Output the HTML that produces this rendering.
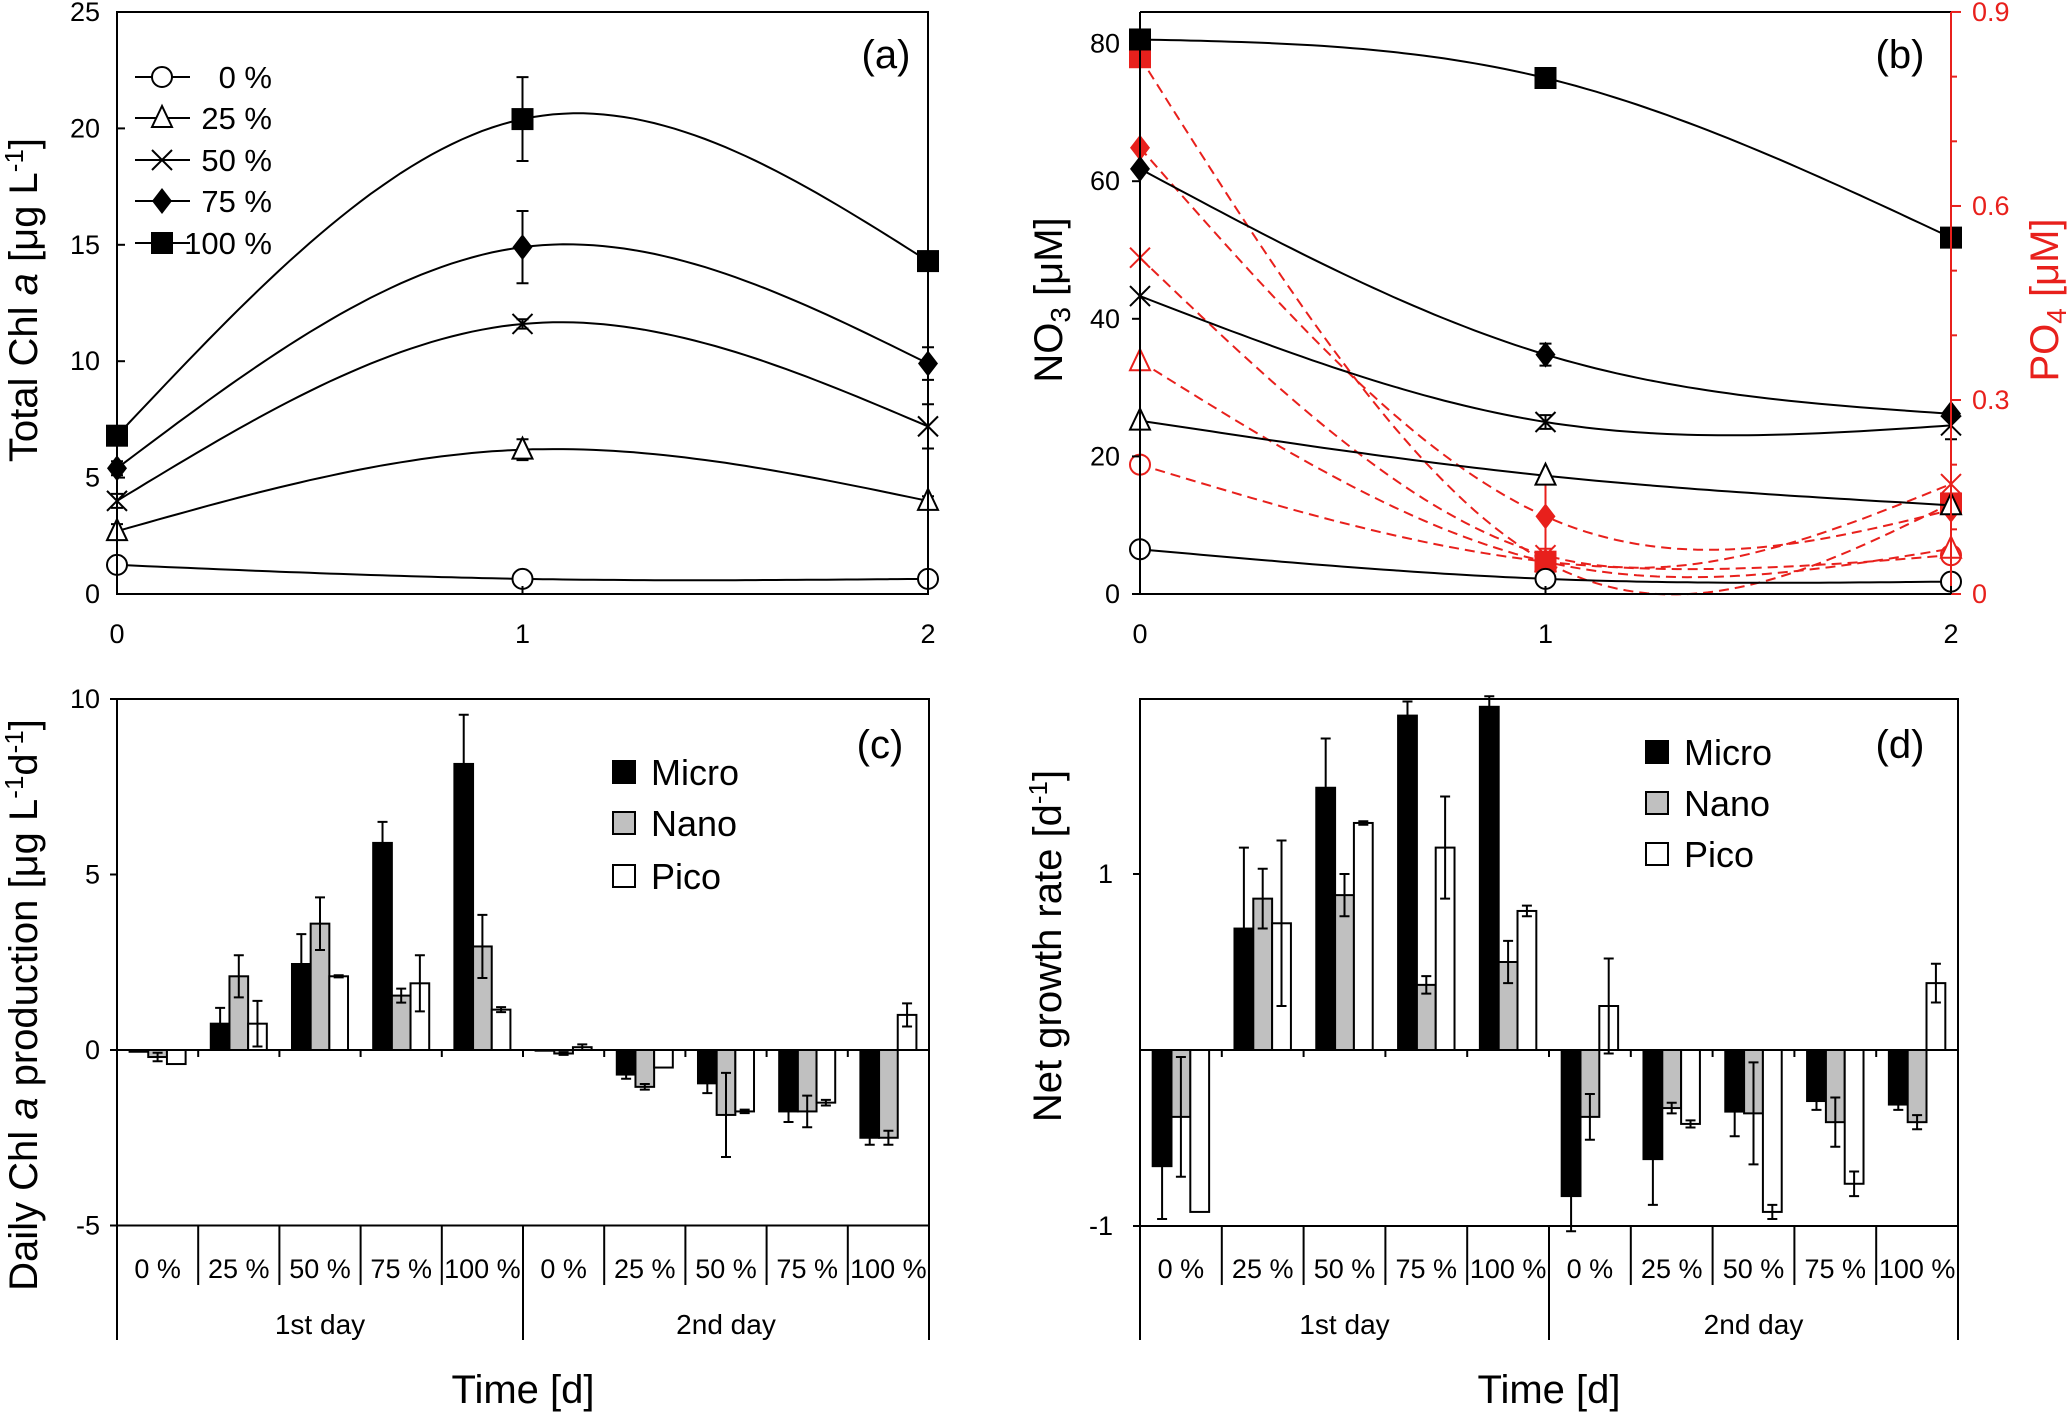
<!DOCTYPE html>
<html><head><meta charset="utf-8"><style>
html,body{margin:0;padding:0;background:#fff}
svg{display:block}
text{font-family:"Liberation Sans Narrow","Liberation Sans",sans-serif}
.w{font-family:"Liberation Sans",sans-serif}
</style></head><body>
<svg id="fig" width="2067" height="1413" viewBox="0 0 2067 1413" xmlns="http://www.w3.org/2000/svg">
<rect width="2067" height="1413" fill="#fff"/>
</svg>
<script>
// ---------- Panel (a) data: Total Chl a ----------
const aTimes = [0, 1, 2];
const aTreat = ["0 %", "25 %", "50 %", "75 %", "100 %"];
const aChl0 = [1.25, 0.65, 0.65];
const aChl25 = [2.7, 6.2, 4.0];
const aChl50 = [4.0, 11.6, 7.2];
const aChl75 = [5.4, 14.9, 9.9];
const aChl100 = [6.8, 20.4, 14.3];
const aErr0 = [0.2, 0.15, 0.15];
const aErr25 = [0.3, 0.45, 0.2];
const aErr50 = [0.3, 0.2, 0.95];
const aErr75 = [0.3, 1.55, 0.7];
const aErr100 = [0.2, 1.8, 0.2];
const aYTicks = [0, 5, 10, 15, 20, 25];
// ---------- Panel (b) data: NO3 (black) and PO4 (red) ----------
const bNO3_0 = [6.5, 2.2, 1.8];
const bNO3_25 = [25.2, 17.2, 12.9];
const bNO3_50 = [43.3, 25.0, 24.5];
const bNO3_75 = [61.8, 34.8, 26.2];
const bNO3_100 = [80.6, 75.0, 51.8];
const bPO4_0 = [0.2, 0.05, 0.06];
const bPO4_25 = [0.36, 0.05, 0.07];
const bPO4_50 = [0.52, 0.06, 0.17];
const bPO4_75 = [0.69, 0.12, 0.13];
const bPO4_100 = [0.83, 0.05, 0.14];
const bNO3Ticks = [0, 20, 40, 60, 80];
const bPO4Ticks = [0, 0.3, 0.6, 0.9];
// ---------- Panel (c) data: Daily Chl a production ----------
const groups = ["0 %", "25 %", "50 %", "75 %", "100 %", "0 %", "25 %", "50 %", "75 %", "100 %"];
const days = ["1st day", "2nd day"];
const cMicro = [-0.05, 0.75, 2.45, 5.9, 8.15, -0.02, -0.7, -0.95, -1.75, -2.5];
const cNano = [-0.2, 2.1, 3.6, 1.55, 2.95, -0.1, -1.05, -1.85, -1.75, -2.5];
const cPico = [-0.4, 0.75, 2.1, 1.9, 1.15, 0.08, -0.5, -1.75, -1.5, 1.0];
const cMicroErr = [0, 0.45, 0.85, 0.6, 1.4, 0, 0.12, 0.28, 0.3, 0.2];
const cNanoErr = [0.12, 0.6, 0.75, 0.2, 0.9, 0.04, 0.08, 1.2, 0.45, 0.2];
const cPicoErr = [0, 0.65, 0.03, 0.8, 0.07, 0.08, 0, 0.05, 0.08, 0.33];
const cYTicks = [-5, 0, 5, 10];
// ---------- Panel (d) data: Net growth rate ----------
const dMicro = [-0.66, 0.69, 1.49, 1.9, 1.95, -0.83, -0.62, -0.35, -0.29, -0.31];
const dNano = [-0.38, 0.86, 0.88, 0.37, 0.5, -0.38, -0.33, -0.36, -0.41, -0.41];
const dPico = [-0.92, 0.72, 1.29, 1.15, 0.79, 0.25, -0.42, -0.92, -0.76, 0.38];
const dMicroErr = [0.3, 0.46, 0.28, 0.08, 0.06, 0.2, 0.26, 0.14, 0.05, 0.03];
const dNanoErr = [0.34, 0.17, 0.12, 0.05, 0.12, 0.13, 0.03, 0.29, 0.14, 0.04];
const dPicoErr = [0, 0.47, 0.01, 0.29, 0.03, 0.27, 0.02, 0.04, 0.07, 0.11];
const dYTicks = [-1, 1];

const NS = "http://www.w3.org/2000/svg";
const svg = document.getElementById("fig");
function mk(tag, attrs, parent) {
  const e = document.createElementNS(NS, tag);
  for (const k in attrs) e.setAttribute(k, attrs[k]);
  (parent || svg).appendChild(e);
  return e;
}
function txt(str, x, y, size, anchor, parent, fill) {
  const t = mk("text", {x: x, y: y, "font-size": size, "text-anchor": anchor || "middle", fill: fill || "#000"}, parent);
  t.textContent = str;
  return t;
}
function spline(ys, xf, yf) {
  const M1 = 1.5 * (ys[0] - 2 * ys[1] + ys[2]);
  const M = [0, M1, 0];
  let d = "";
  for (let s = 0; s < 2; s++) {
    for (let k = 0; k <= 40; k++) {
      const t = k / 40;
      const v = (1 - t) * ys[s] + t * ys[s + 1] + ((Math.pow(1 - t, 3) - (1 - t)) * M[s] + (Math.pow(t, 3) - t) * M[s + 1]) / 6;
      d += (d ? "L" : "M") + xf(s + t).toFixed(1) + "," + yf(v).toFixed(1);
    }
  }
  return d;
}
function marker(kind, x, y, color, parent) {
  const c = color;
  if (kind === 0) return mk("circle", {cx: x, cy: y, r: 10, fill: "#fff", stroke: c, "stroke-width": 2}, parent);
  if (kind === 1) return mk("polygon", {points: `${x},${y - 12} ${x - 10},${y + 9} ${x + 10},${y + 9}`, fill: "#fff", stroke: c, "stroke-width": 2}, parent);
  if (kind === 2) return mk("path", {d: `M${x - 10},${y - 10}L${x + 10},${y + 10}M${x - 10},${y + 10}L${x + 10},${y - 10}`, stroke: c, "stroke-width": 2, fill: "none"}, parent);
  if (kind === 3) return mk("polygon", {points: `${x},${y - 13} ${x + 10},${y} ${x},${y + 13} ${x - 10},${y}`, fill: c}, parent);
  return mk("rect", {x: x - 11, y: y - 11, width: 22, height: 22, fill: c}, parent);
}
function errBar(x, y1, y2, color, parent, cap) {
  cap = cap || 6;
  mk("path", {d: `M${x},${y1}L${x},${y2}M${x - cap},${y1}L${x + cap},${y1}M${x - cap},${y2}L${x + cap},${y2}`, stroke: color, "stroke-width": 2, fill: "none"}, parent);
}

// ================= Panel A =================
const gA = mk("g", {});


const axA = x => 117 + x * 405.5;
const ayA = v => 594 - v * 23.28;
const aSeries = [aChl0, aChl25, aChl50, aChl75, aChl100];
const aErrs = [aErr0, aErr25, aErr50, aErr75, aErr100];
aSeries.forEach((ser, i) => {
  const g = mk("g", {}, gA);
  
  
  mk("path", {d: spline(ser, axA, ayA), stroke: "#000", "stroke-width": 2, fill: "none"}, g);
  ser.forEach((v, j) => {
    const e = aErrs[i][j];
    errBar(axA(aTimes[j]), ayA(v + e), ayA(v - e), "#000", g);
    marker(i, axA(aTimes[j]), ayA(v), "#000", g);
  });
});
const frA = mk("rect", {x: 117, y: 12, width: 811, height: 582, fill: "none", stroke: "#000", "stroke-width": 2}, gA);


aYTicks.forEach(v => {
  mk("line", {x1: 117, x2: 125, y1: ayA(v), y2: ayA(v), stroke: "#000", "stroke-width": 2}, gA);
  const t = txt(String(v), 100, ayA(v) + 9, 27, "end", gA);
  
  
});
aTimes.forEach(x => {
  mk("line", {x1: axA(x), x2: axA(x), y1: 594, y2: 586, stroke: "#000", "stroke-width": 2}, gA);
  const t = txt(String(x), axA(x), 643, 27, "middle", gA);
  
  
});
{
  const t = mk("text", {x: 0, y: 0, "font-size": 40, "text-anchor": "middle", transform: "translate(37,300) rotate(-90)", class: "w"}, gA);
  t.innerHTML = 'Total  Chl <tspan font-style="italic">a</tspan> [μg L<tspan dy="-14" font-size="26">-1</tspan><tspan dy="14">]</tspan>';
  
  
  const p = txt("(a)", 886, 68, 40, "middle", gA);
  p.setAttribute("class", "w");
  
  
  const lg = mk("g", {}, gA);
  
  
  const ly = [77, 118, 160, 201, 243];
  aTreat.forEach((lab, i) => {
    const e = mk("g", {}, lg);
    
    
    mk("line", {x1: 135, x2: 190, y1: ly[i], y2: ly[i], stroke: "#000", "stroke-width": 2}, e);
    marker(i, 162, ly[i], "#000", e);
    txt(lab, 272, ly[i] + 11, 31, "end", e);
  });
}

// ================= Panel B =================
const gB = mk("g", {});


const bxB = x => 1140 + x * 405.5;
const byN = v => 594 - v * 6.88;
const byP = v => 594 - v * 646.7;
const bN = [bNO3_0, bNO3_25, bNO3_50, bNO3_75, bNO3_100];
const bP = [bPO4_0, bPO4_25, bPO4_50, bPO4_75, bPO4_100];
bP.forEach((ser, i) => {
  const g = mk("g", {}, gB);
  
  
  mk("path", {d: spline(ser, bxB, byP), stroke: "#e8201c", "stroke-width": 2, "stroke-dasharray": "10,6", fill: "none"}, g);
  ser.forEach((v, j) => marker(i, bxB(j), byP(v), "#e8201c", g));
});
errBar(bxB(1), byP(0.17), byP(0.07), "#e8201c", gB);
bN.forEach((ser, i) => {
  const g = mk("g", {}, gB);
  
  
  mk("path", {d: spline(ser, bxB, byN), stroke: "#000", "stroke-width": 2, fill: "none"}, g);
  ser.forEach((v, j) => marker(i, bxB(j), byN(v), "#000", g));
});
errBar(bxB(1), byN(36.4), byN(33.2), "#000", gB);
errBar(bxB(1), byN(26), byN(24), "#000", gB);
errBar(bxB(2), byN(26.5), byN(22.5), "#000", gB);
mk("path", {d: "M1140,12L1140,594L1951,594", stroke: "#000", "stroke-width": 2, fill: "none"}, gB);
mk("line", {x1: 1140, x2: 1951, y1: 12, y2: 12, stroke: "#000", "stroke-width": 2}, gB);
const rAx = mk("line", {x1: 1951, x2: 1951, y1: 12, y2: 594, stroke: "#e8201c", "stroke-width": 2}, gB);


bNO3Ticks.forEach(v => {
  mk("line", {x1: 1140, x2: 1132, y1: byN(v), y2: byN(v), stroke: "#000", "stroke-width": 2}, gB);
  const t = txt(String(v), 1120, byN(v) + 9, 27, "end", gB);
  
  
});
for (let k = 0; k <= 9; k++) {
  const v = k / 10, y = byP(v);
  mk("line", {x1: 1951, x2: k % 3 === 0 ? 1961 : 1957, y1: y, y2: y, stroke: "#e8201c", "stroke-width": 2}, gB);
}
bPO4Ticks.forEach(v => {
  const t = txt(v === 0 ? "0" : v.toFixed(1), 1972, byP(v) + 9, 27, "start", gB, "#e8201c");
  
  
});
aTimes.forEach(x => {
  mk("line", {x1: bxB(x), x2: bxB(x), y1: 594, y2: 586, stroke: "#000", "stroke-width": 2}, gB);
  const t = txt(String(x), bxB(x), 643, 27, "middle", gB);
  
  
});
{
  const t = mk("text", {x: 0, y: 0, "font-size": 40, "text-anchor": "middle", transform: "translate(1062,300) rotate(-90)", class: "w"}, gB);
  t.innerHTML = 'NO<tspan dy="8" font-size="28">3</tspan><tspan dy="-8"> [μM]</tspan>';
  
  
  const t2 = mk("text", {x: 0, y: 0, "font-size": 40, "text-anchor": "middle", fill: "#e8201c", transform: "translate(2058,300) rotate(-90)", class: "w"}, gB);
  t2.innerHTML = 'PO<tspan dy="8" font-size="28">4</tspan><tspan dy="-8"> [μM]</tspan>';
  
  
  const p = txt("(b)", 1900, 68, 40, "middle", gB);
  p.setAttribute("class", "w");
  
  
}

// ================= Bar panels =================
function barPanel(name, left, right, yf, micro, nano, pico, me, ne, pe, ticks, tickFmt, labelX, title, titleX, titleY, panelLab, labX, legX, legY) {
  const g = mk("g", {});
  
  
  const gw = (right - left) / 10;
  const bw = gw * 0.23;
  const y0 = yf(0);
  const sets = [[micro, me, "#000"], [nano, ne, "#c0c0c0"], [pico, pe, "#fff"]];
  const names = ["micro", "nano", "pico"];
  groups.forEach((gname, i) => {
    const cx = left + (i + 0.5) * gw;
    sets.forEach((s, k) => {
      const v = s[0][i];
      const x = cx - 1.5 * bw + k * bw;
      const y = Math.min(yf(v), y0);
      const r = mk("rect", {x: x, y: y, width: bw, height: Math.abs(yf(v) - y0), fill: s[2], stroke: "#000", "stroke-width": 2}, g);
      
      
      const e = s[1][i];
      if (e > 0.005) {
        const tip = yf(v);
        const dir = v >= 0 ? -1 : 1;
        errBar(x + bw / 2, tip + dir * Math.abs(yf(e) - y0), tip - dir * Math.abs(yf(e) - y0), "#000", g, 5);
      }
    });
  });
  mk("line", {x1: left, x2: right, y1: y0, y2: y0, stroke: "#000", "stroke-width": 2}, g);
  const bottom = yf(ticks[0]);
  const fr = mk("rect", {x: left, y: 699, width: right - left, height: bottom - 699, fill: "none", stroke: "#000", "stroke-width": 2}, g);
  
  
  for (let i = 1; i < 10; i++) {
    const x = left + i * gw;
    mk("line", {x1: x, x2: x, y1: y0, y2: y0 + 7, stroke: "#000", "stroke-width": 2}, g);
    mk("line", {x1: x, x2: x, y1: bottom, y2: i === 5 ? 1340 : 1285, stroke: "#000", "stroke-width": 2}, g);
  }
  mk("line", {x1: left, x2: left, y1: bottom, y2: 1340, stroke: "#000", "stroke-width": 2}, g);
  mk("line", {x1: right, x2: right, y1: bottom, y2: 1340, stroke: "#000", "stroke-width": 2}, g);
  groups.forEach((gname, i) => {
    const t = txt(gname, left + (i + 0.5) * gw, 1278, 27, "middle", g);
    
    
  });
  days.forEach((d, i) => {
    const t = txt(d, left + (i * 5 + 2.5) * gw, 1334, 28, "middle", g);
    
    
  });
  const xt = txt("Time [d]", (left + right) / 2, 1403, 40, "middle", g);
  
  
  ticks.forEach(v => {
    mk("line", {x1: left, x2: left - 7, y1: yf(v), y2: yf(v), stroke: "#000", "stroke-width": 2}, g);
    const t = txt(tickFmt(v), labelX, yf(v) + 9, 27, "end", g);
    
    
  });
  const tt = mk("text", {x: 0, y: 0, "font-size": 40, "text-anchor": "middle", transform: `translate(${titleX},${titleY}) rotate(-90)`, class: "w"}, g);
  tt.innerHTML = title;
  
  
  const p = txt(panelLab, labX, 758, 40, "middle", g);
  p.setAttribute("class", "w");
  
  
  const lg = mk("g", {}, g);
  
  
  ["Micro", "Nano", "Pico"].forEach((n, k) => {
    const e = mk("g", {}, lg);
    
    
    mk("rect", {x: legX, y: legY[k] - 11, width: 22, height: 22, fill: sets[k][2], stroke: "#000", "stroke-width": 2}, e);
    txt(n, legX + 38, legY[k] + 13, 36, "start", e);
  });
}
barPanel("panel-c", 117, 929, v => 1050 - v * 35.1, cMicro, cNano, cPico, cMicroErr, cNanoErr, cPicoErr,
  cYTicks, v => String(v), 100,
  'Daily Chl <tspan font-style="italic">a</tspan>  production  [μg L<tspan dy="-14" font-size="26">-1</tspan><tspan dy="14">d</tspan><tspan dy="-14" font-size="26">-1</tspan><tspan dy="14">]</tspan>',
  37, 1005, "(c)", 880, 613, [772, 823, 876]);
barPanel("panel-d", 1140, 1958, v => 1050 - v * 176, dMicro, dNano, dPico, dMicroErr, dNanoErr, dPicoErr,
  dYTicks, v => String(v), 1113,
  'Net growth rate [d<tspan dy="-14" font-size="26">-1</tspan><tspan dy="14">]</tspan>',
  1061, 946, "(d)", 1900, 1646, [752, 803, 854]);
</script>
</body></html>
